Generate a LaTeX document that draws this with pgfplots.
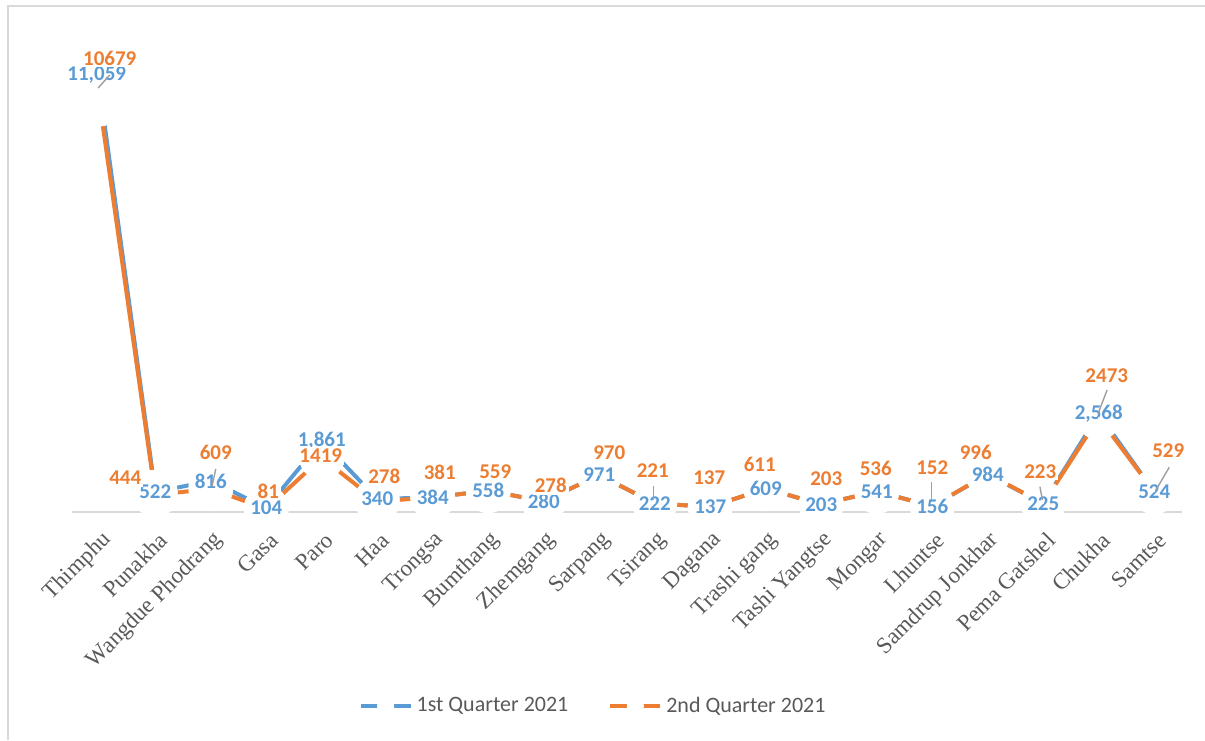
\documentclass[border=0pt]{standalone}
\usepackage{fontspec}
\setmainfont{Carlito}
\newfontfamily\timesf{Liberation Serif}
\usepackage{pgfplots}
\usepackage{pgfplotstable}
\pgfplotsset{compat=1.18}

\definecolor{qblue}{HTML}{5B9BD5}
\definecolor{qorange}{HTML}{ED7D31}
\definecolor{basegray}{HTML}{D9D9D9}
\definecolor{txtgray}{HTML}{595959}

% values, labels and label offsets (px of the original chart, up = positive)
\pgfplotstableread{
x  q1    q2    l1     l2    bdx bdy odx ody
0  11059 10679 11,059 10679 -3  15  10  46
1  522   444   522    444    0  0  -30  17
2  816   609   816    609    0  0   5   36
3  104   81    104    81     0  0   2   18
4  1861  1419  1,861  1419   0  0  -1   2
5  340   278   340    278    0  0   7   25
6  384   381   384    381    0  0   7   25
7  558   559   558    559    0  0   7   19
8  280   278   280    278    0  0   7   16
9  971   970   971    970    0  0   10  22
10 222   221   222    221    0  0  -2   33
11 137   137   137    137    0  0  -1   29
12 609   611   609    611    0  0  -6   24
13 203   203   203    203    0  0   5   26
14 541   536   541    536    0  0  -1   23
15 156   152   156    152    0  0   0   39
16 984   996   984    996    0  0  -12  22
17 225   223   225    223    0  0  -3   32
18 2568  2473  2,568  2473   0  0   8   42
19 524   529   524    529    0  0   14  41
}\data

\begin{document}
\begin{tikzpicture}
  \begin{axis}[
      scale only axis,
      width=555pt, height=229.2pt,
      xmin=-0.5, xmax=19.5,
      ymin=0, ymax=12000,
      clip=false,
      axis x line=bottom,
      axis y line=none,
      x axis line style={-, draw=basegray, line width=1pt},
      xtick={0,...,19},
      xtick style={draw=none},
      ytick=\empty,
      xticklabels={Thimphu, Punakha, Wangdue Phodrang, Gasa, Paro, Haa, Trongsa,
        Bumthang, Zhemgang, Sarpang, Tsirang, Dagana, Trashi gang, Tashi Yangtse,
        Mongar, Lhuntse, Samdrup Jonkhar, Pema Gatshel, Chukha, Samtse},
      xticklabel style={rotate=45, anchor=east, xshift=-1pt, yshift=-10pt,
        font=\timesf\fontsize{11.5}{13}\selectfont, text=txtgray},
      legend columns=2,
      legend style={at={(0.4703,-0.4232)}, anchor=center, draw=none, fill=none,
        font=\fontsize{11}{13}\selectfont, text=txtgray,
        /tikz/every even column/.append style={column sep=18pt}},
      legend image code/.code={
        \draw[#1] (0pt,0pt) -- (25pt,0pt);
        \fill[white] (12.5pt,0pt) circle (3.3pt);},
    ]
    % lines
    \addplot[qblue, line width=2pt, mark=none, line join=round]
      table[x=x, y=q1]{\data};
    \addplot[qorange, line width=2pt, mark=none, line join=round]
      table[x=x, y=q2]{\data};
    \legend{1st Quarter 2021, 2nd Quarter 2021}

    % white markers that mask the lines near every point
    \addplot[white, forget plot, only marks, mark=*, mark size=11pt,
      mark options={white}] table[x=x, y=q1]{\data};
    \addplot[white, forget plot, only marks, mark=*, mark size=11pt,
      mark options={white}] table[x=x, y=q2]{\data};

    % data labels
    \addplot[white, forget plot, only marks, mark=*, mark size=0.01pt,
      point meta=explicit symbolic,
      visualization depends on={\thisrow{bdx} \as \lbx},
      visualization depends on={\thisrow{bdy} \as \lby},
      nodes near coords,
      every node near coord/.append style={anchor=center,
        xshift=\lbx*0.5pt, yshift=\lby*0.5pt, fill=white, inner sep=1pt,
        text=qblue, font=\bfseries\fontsize{10.5}{12}\selectfont}]
      table[x=x, y=q1, meta=l1]{\data};
    \addplot[white, forget plot, only marks, mark=*, mark size=0.01pt,
      point meta=explicit symbolic,
      visualization depends on={\thisrow{odx} \as \lbx},
      visualization depends on={\thisrow{ody} \as \lby},
      nodes near coords,
      every node near coord/.append style={anchor=center,
        xshift=\lbx*0.5pt, yshift=\lby*0.5pt, fill=white, inner sep=1pt,
        text=qorange, font=\bfseries\fontsize{10.5}{12}\selectfont}]
      table[x=x, y=q2, meta=l2]{\data};

    % leader line ends
    \coordinate (t1) at (axis cs:-0.03,11099);  \coordinate (t2) at (axis cs:0.18,11440);
    \coordinate (w1) at (axis cs:2.09,1126);    \coordinate (w2) at (axis cs:2.02,654);
    \coordinate (s1) at (axis cs:9.98,681);     \coordinate (s2) at (axis cs:9.98,314);
    \coordinate (h1) at (axis cs:14.985,793);   \coordinate (h2) at (axis cs:14.985,270);
    \coordinate (p1) at (axis cs:16.94,662);    \coordinate (p2) at (axis cs:16.985,314);
    \coordinate (c1) at (axis cs:18.15,3194);   \coordinate (c2) at (axis cs:17.99,2584);
    \coordinate (m1) at (axis cs:19.27,1170);   \coordinate (m2) at (axis cs:19.03,576);
  \end{axis}
  % leader lines, on top of labels and markers
  \foreach \a/\b in {t1/t2, w1/w2, s1/s2, h1/h2, p1/p2, c1/c2, m1/m2}
    \draw[gray!75, line width=0.7pt] (\a) -- (\b);
  % chart area border (left and top only, the rest is cropped)
  \draw[basegray, line width=1pt] (-32pt,-114pt) -- (-32pt,253pt) -- (566.5pt,253pt);
  \pgfresetboundingbox
  \useasboundingbox (-36pt,-114pt) rectangle (566.5pt,256pt);
\end{tikzpicture}
\end{document}
